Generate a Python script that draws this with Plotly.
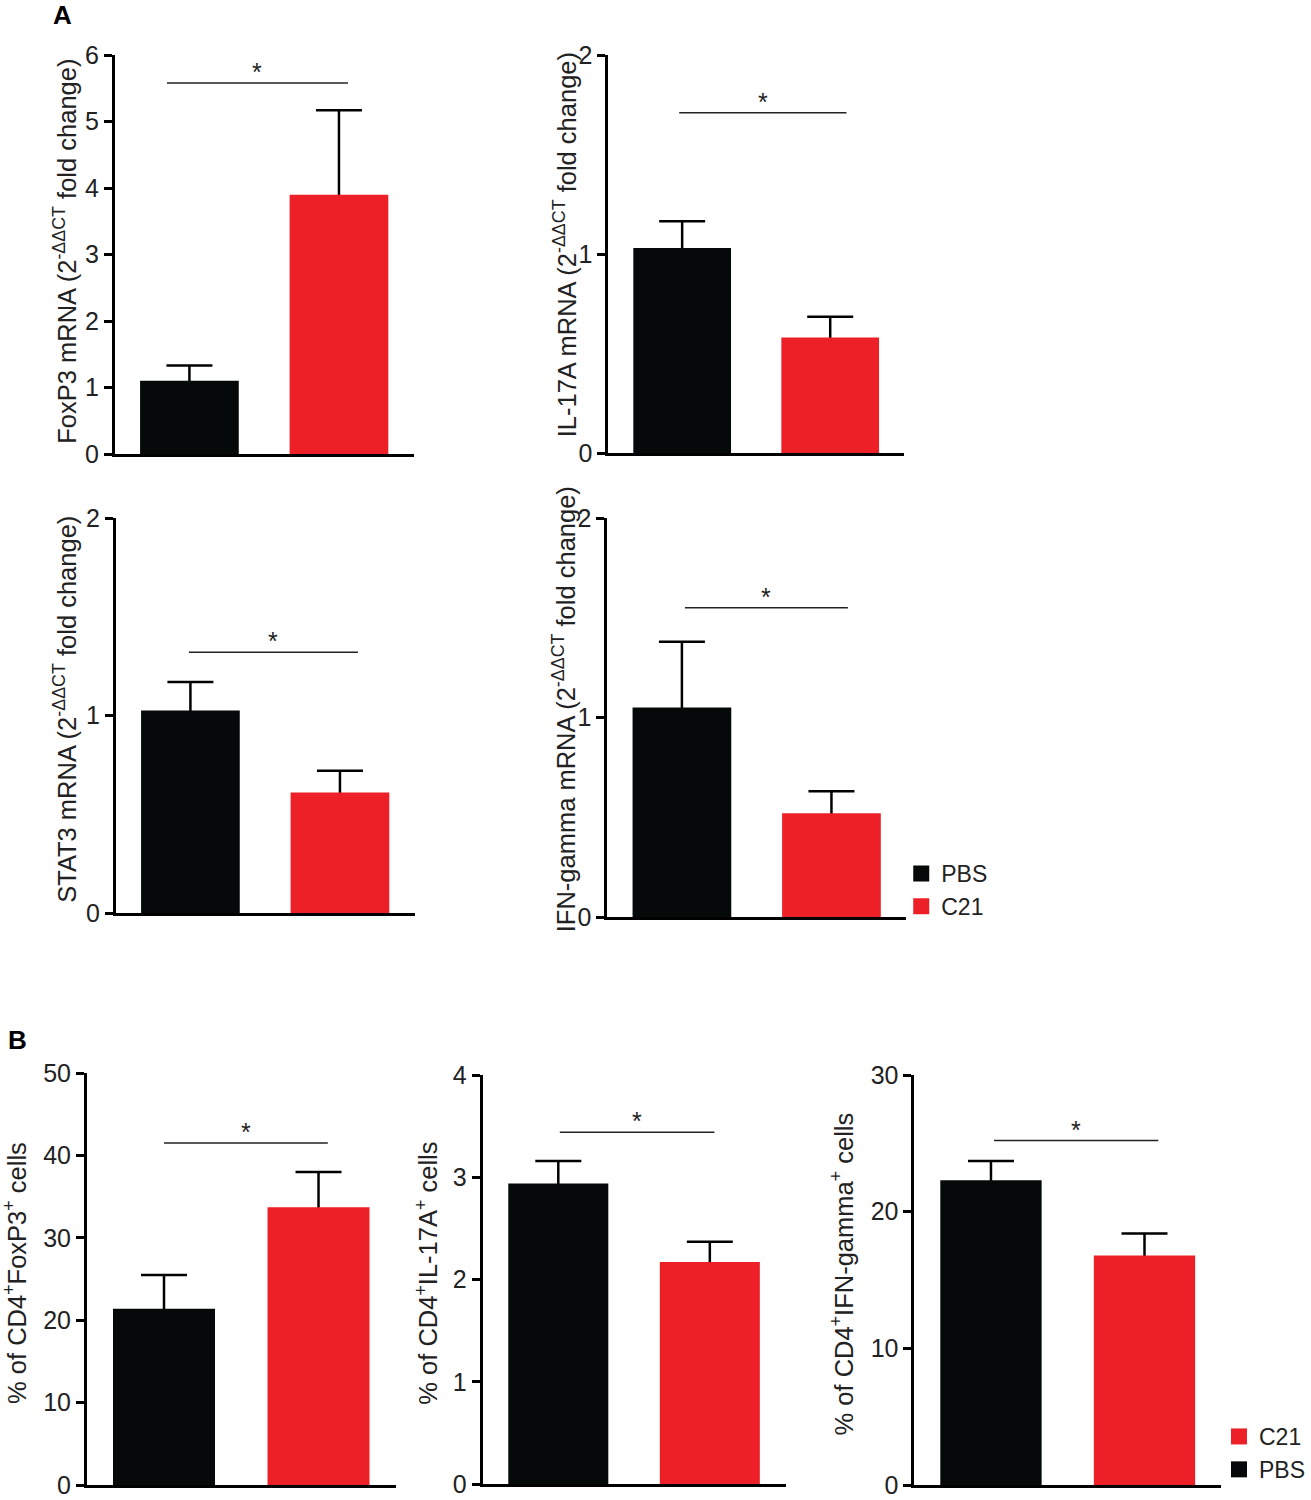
import plotly.graph_objects as go

W, H = 1311, 1500

# ---- data ----
groups = ["PBS", "C21"]
y_titles = [
    "FoxP3 mRNA (2<sup>-ΔΔCT</sup> fold change)",
    "IL-17A mRNA (2<sup>-ΔΔCT</sup> fold change)",
    "STAT3 mRNA (2<sup>-ΔΔCT</sup> fold change)",
    "IFN-gamma mRNA (2<sup>-ΔΔCT</sup> fold change)",
    "% of CD4<sup>+</sup>FoxP3<sup>+</sup> cells",
    "% of CD4<sup>+</sup>IL-17A<sup>+</sup> cells",
    "% of CD4<sup>+</sup>IFN-gamma<sup>+</sup> cells",
]
pbs_mean = [1.10, 1.03, 1.025, 1.05, 21.4, 2.94, 22.3]
pbs_err = [0.23, 0.135, 0.145, 0.33, 4.1, 0.22, 1.4]
c21_mean = [3.90, 0.58, 0.61, 0.52, 33.7, 2.17, 16.8]
c21_err = [1.27, 0.105, 0.11, 0.11, 4.3, 0.20, 1.6]
y_max = [6, 2, 2, 2, 50, 4, 30]
y_dtick = [1, 1, 1, 1, 10, 1, 10]
sig_y = [5.58, 1.71, 1.32, 1.55, 41.5, 3.44, 25.2]
sig_x0 = [-0.15, -0.02, -0.01, 0.02, 0.0, 0.01, 0.02]
sig_x1 = [1.06, 1.11, 1.12, 1.11, 1.06, 1.03, 1.09]

# ---- layout in pixels: (x_left, x_right, y_top, y_bottom) ----
BS = 5  # panel B nudged up a little so its bottom tick labels stay inside the page
boxes = [
    (115, 415, 55, 454),
    (610, 907, 55, 453),
    (116, 416, 518, 913),
    (609, 909, 518, 917),
    (87, 397, 1078 - BS, 1490 - BS),
    (484, 788, 1080 - BS, 1489 - BS),
    (917, 1225, 1080 - BS, 1490 - BS),
]
title_pos = [(65, 251), (567, 245), (65, 709), (566, 709),
             (15, 1278 - BS), (428, 1278 - BS), (845, 1279 - BS)]

BLACK = "#060909"
RED = "#ED2027"
FONT = "Arial, Liberation Sans, sans-serif"

px = lambda v: v / W
py = lambda v: 1 - v / H

fig = go.Figure()
layout = {}
annotations = []
shapes = []

for i in range(7):
    n = "" if i == 0 else str(i + 1)
    xa, ya = "x" + n, "y" + n
    x0, x1, yt, yb = boxes[i]
    for j, (m, e, c) in enumerate([(pbs_mean[i], pbs_err[i], BLACK),
                                   (c21_mean[i], c21_err[i], RED)]):
        # error bar drawn first (its lower end sits on the baseline, hidden by the bar)
        fig.add_trace(go.Bar(
            x=[j], y=[m], width=0.66, marker=dict(color="rgba(0,0,0,0)", line_width=0),
            error_y=dict(type="data", symmetric=False, array=[e], arrayminus=[m],
                         color="black", thickness=2.5, width=23),
            xaxis=xa, yaxis=ya, showlegend=False, hoverinfo="skip",
        ))
        fig.add_trace(go.Bar(
            x=[j], y=[m], width=0.66, marker=dict(color=c, line_width=0),
            xaxis=xa, yaxis=ya, showlegend=False, name=groups[j],
        ))
    layout["xaxis" + n] = dict(
        domain=[px(x0), px(x1)], anchor=ya, range=[-0.5, 1.5],
        showline=True, linecolor="black", linewidth=2.5, automargin=False,
        showticklabels=False, ticks="", showgrid=False, zeroline=False,
    )
    layout["yaxis" + n] = dict(
        domain=[py(yb), py(yt)], anchor=xa, range=[0, y_max[i]], dtick=y_dtick[i],
        showline=True, linecolor="black", linewidth=2.5, automargin=False,
        ticks="outside", ticklen=8, tickwidth=2.5, tickcolor="black",
        tickfont=dict(size=25, color="#222", family=FONT), ticklabeloverflow="allow",
        showgrid=False, zeroline=False,
    )
    shapes.append(dict(type="line", xref=xa, yref=ya, x0=sig_x0[i], x1=sig_x1[i],
                       y0=sig_y[i], y1=sig_y[i], line=dict(color="#222", width=1.5)))
    annotations.append(dict(xref=xa, yref=ya, x=(sig_x0[i] + sig_x1[i]) / 2, y=sig_y[i],
                            text="*", showarrow=False, yanchor="middle", yshift=11,
                            font=dict(size=25, color="#222", family=FONT)))
    tx, ty = title_pos[i]
    annotations.append(dict(xref="paper", yref="paper", x=px(tx), y=py(ty), text=y_titles[i],
                            textangle=-90, showarrow=False, xanchor="center", yanchor="middle",
                            font=dict(size=25.5, color="#222", family=FONT)))

# legend entries
for name, c, lg in [("PBS", BLACK, "legend"), ("C21", RED, "legend"),
                    ("PBS", BLACK, "legend2"), ("C21", RED, "legend2")]:
    fig.add_trace(go.Scatter(x=[None], y=[None], mode="markers", name=name,
                             marker=dict(symbol="square", size=18, color=c),
                             legend=lg, xaxis="x4" if lg == "legend" else "x7",
                             yaxis="y4" if lg == "legend" else "y7"))

annotations.append(dict(xref="paper", yref="paper", x=px(51), y=py(15), text="<b>A</b>",
                        showarrow=False, xanchor="left", yanchor="middle",
                        font=dict(size=26, color="black", family=FONT)))
annotations.append(dict(xref="paper", yref="paper", x=px(6), y=py(1040), text="<b>B</b>",
                        showarrow=False, xanchor="left", yanchor="middle",
                        font=dict(size=26, color="black", family=FONT)))

fig.update_layout(
    **layout,
    template="none",
    width=W, height=H, margin=dict(l=0, r=0, t=0, b=0, pad=0),
    paper_bgcolor="white", plot_bgcolor="white",
    annotations=annotations, shapes=shapes, barmode="overlay",
    legend=dict(x=px(904), y=py(852), xanchor="left", yanchor="top",
                font=dict(size=23, color="#222", family=FONT), itemsizing="trace",
                bgcolor="rgba(0,0,0,0)", itemwidth=30),
    legend2=dict(x=px(1223), y=py(1420 - BS), xanchor="left", yanchor="top",
                 font=dict(size=23, color="#222", family=FONT), itemsizing="trace",
                 traceorder="reversed", bgcolor="rgba(0,0,0,0)", itemwidth=30),
)

# drop the page's default body margin so the figure sits at the window origin
fig.write_html("out.html", config={"displayModeBar": False},
               post_script="document.body.style.margin='0';")
